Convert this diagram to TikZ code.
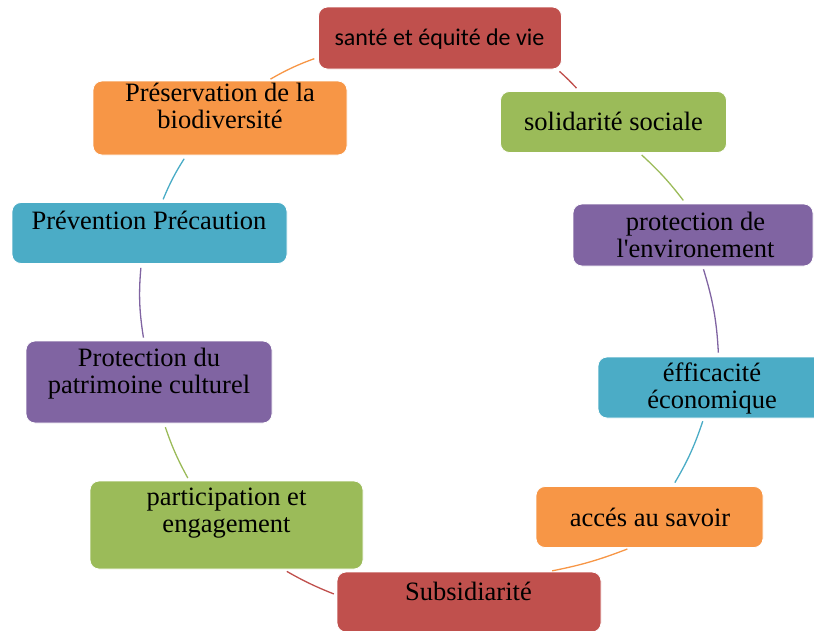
\documentclass[tikz,border=0pt]{standalone}
\usepackage{fontspec}
\setmainfont{Liberation Serif}
\newfontfamily\calibfont{Carlito}
\definecolor{cred}{HTML}{C0504D}
\definecolor{corange}{HTML}{F79646}
\definecolor{cgreen}{HTML}{9BBB59}
\definecolor{cteal}{HTML}{4BACC6}
\definecolor{cpurple}{HTML}{8064A2}
\begin{document}
\begin{tikzpicture}[x=1pt,y=-1pt,
  box/.style={draw=white, line width=0.8pt, rounded corners=9pt, inner sep=0pt},
  lbl/.style={font=\fontsize{26.5}{27}\selectfont, align=center, anchor=base, inner sep=0pt},
  link/.style={line width=1.3pt, shorten <=3pt, shorten >=4pt}]
\useasboundingbox (0,0) rectangle (814,630);
% boxes
\node[box, fill=cred,    minimum width=243pt, minimum height=62pt] (n1)  at (440,38) {};
\node[box, fill=corange, minimum width=254pt, minimum height=74pt] (n2)  at (220,118) {};
\node[box, fill=cgreen,  minimum width=226pt, minimum height=61pt] (n3)  at (613.5,122) {};
\node[box, fill=cteal,   minimum width=275pt, minimum height=61pt] (n4)  at (149.5,233) {};
\node[box, fill=cpurple, minimum width=240pt, minimum height=62pt] (n5)  at (693,235) {};
\node[box, fill=cpurple, minimum width=246pt, minimum height=82pt] (n6)  at (149,382) {};
\node[box, fill=cteal,   minimum width=228pt, minimum height=61pt] (n7)  at (712,387.5) {};
\node[box, fill=cgreen,  minimum width=273pt, minimum height=88pt] (n8)  at (226.5,525) {};
\node[box, fill=corange, minimum width=227pt, minimum height=61pt] (n9)  at (649.5,517) {};
\node[box, fill=cred,    minimum width=264pt, minimum height=60pt] (n10) at (469,602) {};
% labels (anchor base = baseline of the last line)
\node[lbl, font=\calibfont\fontsize{24}{27}\selectfont] (t1) at (439.5,45) {santé et équité de vie};
\node[lbl] (t2)  at (220,128)   {Préservation de la\\biodiversité};
\node[lbl] (t3)  at (613.5,130) {solidarité sociale};
\node[lbl] (t4)  at (149,229)   {Prévention Précaution};
\node[lbl] (t5)  at (695.5,257) {protection de\\l\textquotesingle environement};
\node[lbl] (t6)  at (149,393)   {Protection du\\patrimoine culturel};
\node[lbl] (t7)  at (712,408.5) {éfficacité\\économique};
\node[lbl] (t8)  at (226.5,532) {participation et\\engagement};
\node[lbl] (t9)  at (650,526)   {accés au savoir};
\node[lbl] (t10) at (468.5,600) {Subsidiarité};
% connectors (arc pieces)
\draw[link, cred]    (n1.-15.5)  to[bend left=3] (n3.138.7);
\draw[link, cgreen]  (n3.-50.6)  to[bend left=5] (n5.103.6);
\draw[link, cpurple] (n5.-73.8)  to[bend left=7] (n7.78.2);
\draw[link, cteal]   (n7.-105.3) to[bend left=6] (n9.53.4);
\draw[link, corange] (n9.-122.8) to[bend left=5] (n10.21.5);
\draw[link, cred]    (n10.177.4) to[bend left=4] (n8.-38.4);
\draw[link, cgreen]  (n8.130.8)  to[bend left=5] (n6.-70.7);
\draw[link, cpurple] (n6.97.5)   to[bend left=7] (n4.-105.3);
\draw[link, cteal]   (n4.68)     to[bend left=5] (n2.-132.2);
\draw[link, corange] (n2.38.7)   to[bend left=5] (n1.-171.8);
\end{tikzpicture}
\end{document}
